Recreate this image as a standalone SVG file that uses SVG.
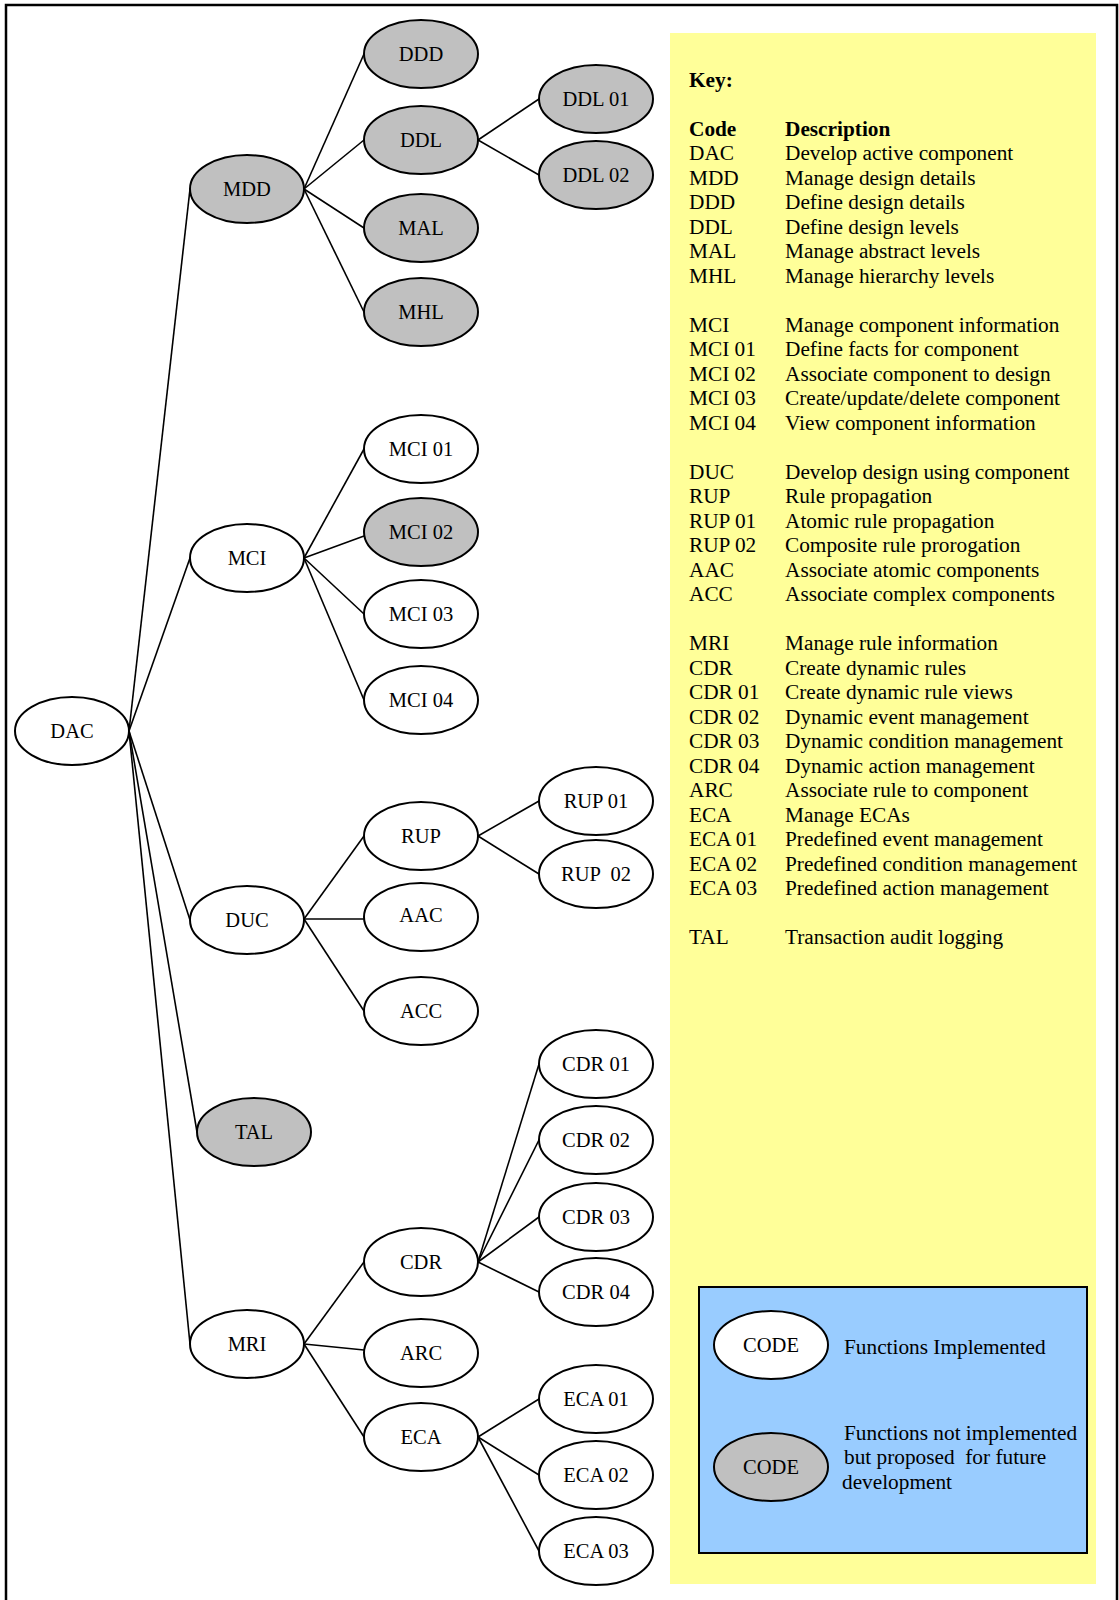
<svg xmlns="http://www.w3.org/2000/svg" width="1119" height="1600" viewBox="0 0 1119 1600">
<style>
.n ellipse{stroke:#000;stroke-width:2}
.w ellipse{fill:#fff}
.g ellipse{fill:#c0c0c0}
.n text{font-family:"Liberation Serif","Times New Roman",serif;font-size:20.5px;text-anchor:middle;fill:#000}
#edges line{stroke:#000;stroke-width:1.6}
.k{font-family:"Liberation Serif","Times New Roman",serif;font-size:21.3px;fill:#000}
.b{font-weight:bold}
</style>
<rect x="0" y="0" width="1119" height="1600" fill="#fff"/>
<path d="M6,1600 V5 H1117 V1600" fill="none" stroke="#000" stroke-width="2.5"/>
<rect x="670" y="33" width="426" height="1551" fill="#ffff99"/>
<g id="edges">
<line x1="129" y1="731" x2="190" y2="189"/>
<line x1="129" y1="731" x2="190" y2="558"/>
<line x1="129" y1="731" x2="190" y2="920"/>
<line x1="129" y1="731" x2="197" y2="1132"/>
<line x1="129" y1="731" x2="190" y2="1344"/>
<line x1="304" y1="189" x2="364" y2="54"/>
<line x1="304" y1="189" x2="364" y2="140"/>
<line x1="304" y1="189" x2="364" y2="228"/>
<line x1="304" y1="189" x2="364" y2="312"/>
<line x1="478" y1="140" x2="539" y2="99"/>
<line x1="478" y1="140" x2="539" y2="175"/>
<line x1="304" y1="558" x2="364" y2="449"/>
<line x1="304" y1="558" x2="364" y2="536"/>
<line x1="304" y1="558" x2="364" y2="614"/>
<line x1="304" y1="558" x2="364" y2="700"/>
<line x1="304" y1="919" x2="364" y2="836"/>
<line x1="304" y1="919" x2="364" y2="919"/>
<line x1="304" y1="919" x2="364" y2="1011"/>
<line x1="478" y1="836" x2="539" y2="801"/>
<line x1="478" y1="836" x2="539" y2="874"/>
<line x1="304" y1="1344" x2="364" y2="1262"/>
<line x1="304" y1="1344" x2="364" y2="1350"/>
<line x1="304" y1="1344" x2="364" y2="1437"/>
<line x1="478" y1="1262" x2="539" y2="1064"/>
<line x1="478" y1="1262" x2="539" y2="1140"/>
<line x1="478" y1="1262" x2="539" y2="1217"/>
<line x1="478" y1="1262" x2="539" y2="1292"/>
<line x1="478" y1="1437" x2="539" y2="1399"/>
<line x1="478" y1="1437" x2="539" y2="1475"/>
<line x1="478" y1="1437" x2="539" y2="1551"/>
</g>
<g id="DAC" class="n w"><ellipse cx="72" cy="731" rx="57" ry="34"/><text x="72" y="738">DAC</text></g>
<g id="MDD" class="n g"><ellipse cx="247" cy="189" rx="57" ry="34"/><text x="247" y="196">MDD</text></g>
<g id="MCI" class="n w"><ellipse cx="247" cy="558" rx="57" ry="34"/><text x="247" y="565">MCI</text></g>
<g id="DUC" class="n w"><ellipse cx="247" cy="920" rx="57" ry="34"/><text x="247" y="927">DUC</text></g>
<g id="TAL" class="n g"><ellipse cx="254" cy="1132" rx="57" ry="34"/><text x="254" y="1139">TAL</text></g>
<g id="MRI" class="n w"><ellipse cx="247" cy="1344" rx="57" ry="34"/><text x="247" y="1351">MRI</text></g>
<g id="DDD" class="n g"><ellipse cx="421" cy="54" rx="57" ry="34"/><text x="421" y="61">DDD</text></g>
<g id="DDL" class="n g"><ellipse cx="421" cy="140" rx="57" ry="34"/><text x="421" y="147">DDL</text></g>
<g id="MAL" class="n g"><ellipse cx="421" cy="228" rx="57" ry="34"/><text x="421" y="235">MAL</text></g>
<g id="MHL" class="n g"><ellipse cx="421" cy="312" rx="57" ry="34"/><text x="421" y="319">MHL</text></g>
<g id="DDL01" class="n g"><ellipse cx="596" cy="99" rx="57" ry="34"/><text x="596" y="106">DDL 01</text></g>
<g id="DDL02" class="n g"><ellipse cx="596" cy="175" rx="57" ry="34"/><text x="596" y="182">DDL 02</text></g>
<g id="MCI01" class="n w"><ellipse cx="421" cy="449" rx="57" ry="34"/><text x="421" y="456">MCI 01</text></g>
<g id="MCI02" class="n g"><ellipse cx="421" cy="532" rx="57" ry="34"/><text x="421" y="539">MCI 02</text></g>
<g id="MCI03" class="n w"><ellipse cx="421" cy="614" rx="57" ry="34"/><text x="421" y="621">MCI 03</text></g>
<g id="MCI04" class="n w"><ellipse cx="421" cy="700" rx="57" ry="34"/><text x="421" y="707">MCI 04</text></g>
<g id="RUP" class="n w"><ellipse cx="421" cy="836" rx="57" ry="34"/><text x="421" y="843">RUP</text></g>
<g id="AAC" class="n w"><ellipse cx="421" cy="917" rx="57" ry="34"/><text x="421" y="922">AAC</text></g>
<g id="ACC" class="n w"><ellipse cx="421" cy="1011" rx="57" ry="34"/><text x="421" y="1018">ACC</text></g>
<g id="RUP01" class="n w"><ellipse cx="596" cy="801" rx="57" ry="34"/><text x="596" y="808">RUP 01</text></g>
<g id="RUP02" class="n w"><ellipse cx="596" cy="874" rx="57" ry="34"/><text x="596" y="881" xml:space="preserve">RUP  02</text></g>
<g id="CDR" class="n w"><ellipse cx="421" cy="1262" rx="57" ry="34"/><text x="421" y="1269">CDR</text></g>
<g id="ARC" class="n w"><ellipse cx="421" cy="1353" rx="57" ry="34"/><text x="421" y="1360">ARC</text></g>
<g id="ECA" class="n w"><ellipse cx="421" cy="1437" rx="57" ry="34"/><text x="421" y="1444">ECA</text></g>
<g id="CDR01" class="n w"><ellipse cx="596" cy="1064" rx="57" ry="34"/><text x="596" y="1071">CDR 01</text></g>
<g id="CDR02" class="n w"><ellipse cx="596" cy="1140" rx="57" ry="34"/><text x="596" y="1147">CDR 02</text></g>
<g id="CDR03" class="n w"><ellipse cx="596" cy="1217" rx="57" ry="34"/><text x="596" y="1224">CDR 03</text></g>
<g id="CDR04" class="n w"><ellipse cx="596" cy="1292" rx="57" ry="34"/><text x="596" y="1299">CDR 04</text></g>
<g id="ECA01" class="n w"><ellipse cx="596" cy="1399" rx="57" ry="34"/><text x="596" y="1406">ECA 01</text></g>
<g id="ECA02" class="n w"><ellipse cx="596" cy="1475" rx="57" ry="34"/><text x="596" y="1482">ECA 02</text></g>
<g id="ECA03" class="n w"><ellipse cx="596" cy="1551" rx="57" ry="34"/><text x="596" y="1558">ECA 03</text></g>
<g id="key" class="k">
<text x="689" y="87" class="b">Key:</text>
<text x="689" y="136" class="b">Code</text><text x="785" y="136" class="b">Description</text>
<text x="689" y="160">DAC</text><text x="785" y="160">Develop active component</text>
<text x="689" y="184.5">MDD</text><text x="785" y="184.5">Manage design details</text>
<text x="689" y="209">DDD</text><text x="785" y="209">Define design details</text>
<text x="689" y="233.5">DDL</text><text x="785" y="233.5">Define design levels</text>
<text x="689" y="258">MAL</text><text x="785" y="258">Manage abstract levels</text>
<text x="689" y="282.5">MHL</text><text x="785" y="282.5">Manage hierarchy levels</text>
<text x="689" y="331.5">MCI</text><text x="785" y="331.5">Manage component information</text>
<text x="689" y="356">MCI 01</text><text x="785" y="356">Define facts for component</text>
<text x="689" y="380.5">MCI 02</text><text x="785" y="380.5">Associate component to design</text>
<text x="689" y="405">MCI 03</text><text x="785" y="405">Create/update/delete component</text>
<text x="689" y="429.5">MCI 04</text><text x="785" y="429.5">View component information</text>
<text x="689" y="478.5">DUC</text><text x="785" y="478.5">Develop design using component</text>
<text x="689" y="503">RUP</text><text x="785" y="503">Rule propagation</text>
<text x="689" y="527.5">RUP 01</text><text x="785" y="527.5">Atomic rule propagation</text>
<text x="689" y="552">RUP 02</text><text x="785" y="552">Composite rule prorogation</text>
<text x="689" y="576.5">AAC</text><text x="785" y="576.5">Associate atomic components</text>
<text x="689" y="601">ACC</text><text x="785" y="601">Associate complex components</text>
<text x="689" y="650">MRI</text><text x="785" y="650">Manage rule information</text>
<text x="689" y="674.5">CDR</text><text x="785" y="674.5">Create dynamic rules</text>
<text x="689" y="699">CDR 01</text><text x="785" y="699">Create dynamic rule views</text>
<text x="689" y="723.5">CDR 02</text><text x="785" y="723.5">Dynamic event management</text>
<text x="689" y="748">CDR 03</text><text x="785" y="748">Dynamic condition management</text>
<text x="689" y="772.5">CDR 04</text><text x="785" y="772.5">Dynamic action management</text>
<text x="689" y="797">ARC</text><text x="785" y="797">Associate rule to component</text>
<text x="689" y="821.5">ECA</text><text x="785" y="821.5">Manage ECAs</text>
<text x="689" y="846">ECA 01</text><text x="785" y="846">Predefined event management</text>
<text x="689" y="870.5">ECA 02</text><text x="785" y="870.5">Predefined condition management</text>
<text x="689" y="895">ECA 03</text><text x="785" y="895">Predefined action management</text>
<text x="689" y="944">TAL</text><text x="785" y="944">Transaction audit logging</text>
</g>
<g id="legend">
<rect x="699" y="1287" width="388" height="266" fill="#99ccff" stroke="#000" stroke-width="2"/>
<g id="legend-impl" class="n w"><ellipse cx="771" cy="1345" rx="57" ry="34"/><text x="771" y="1352">CODE</text></g>
<g id="legend-prop" class="n g"><ellipse cx="771" cy="1467" rx="57" ry="34"/><text x="771" y="1474">CODE</text></g>
<text class="k" x="844" y="1354">Functions Implemented</text>
<text class="k" x="844" y="1440">Functions not implemented</text>
<text class="k" x="844" y="1464" xml:space="preserve">but proposed  for future</text>
<text class="k" x="842" y="1489">development</text>
</g>
</svg>
